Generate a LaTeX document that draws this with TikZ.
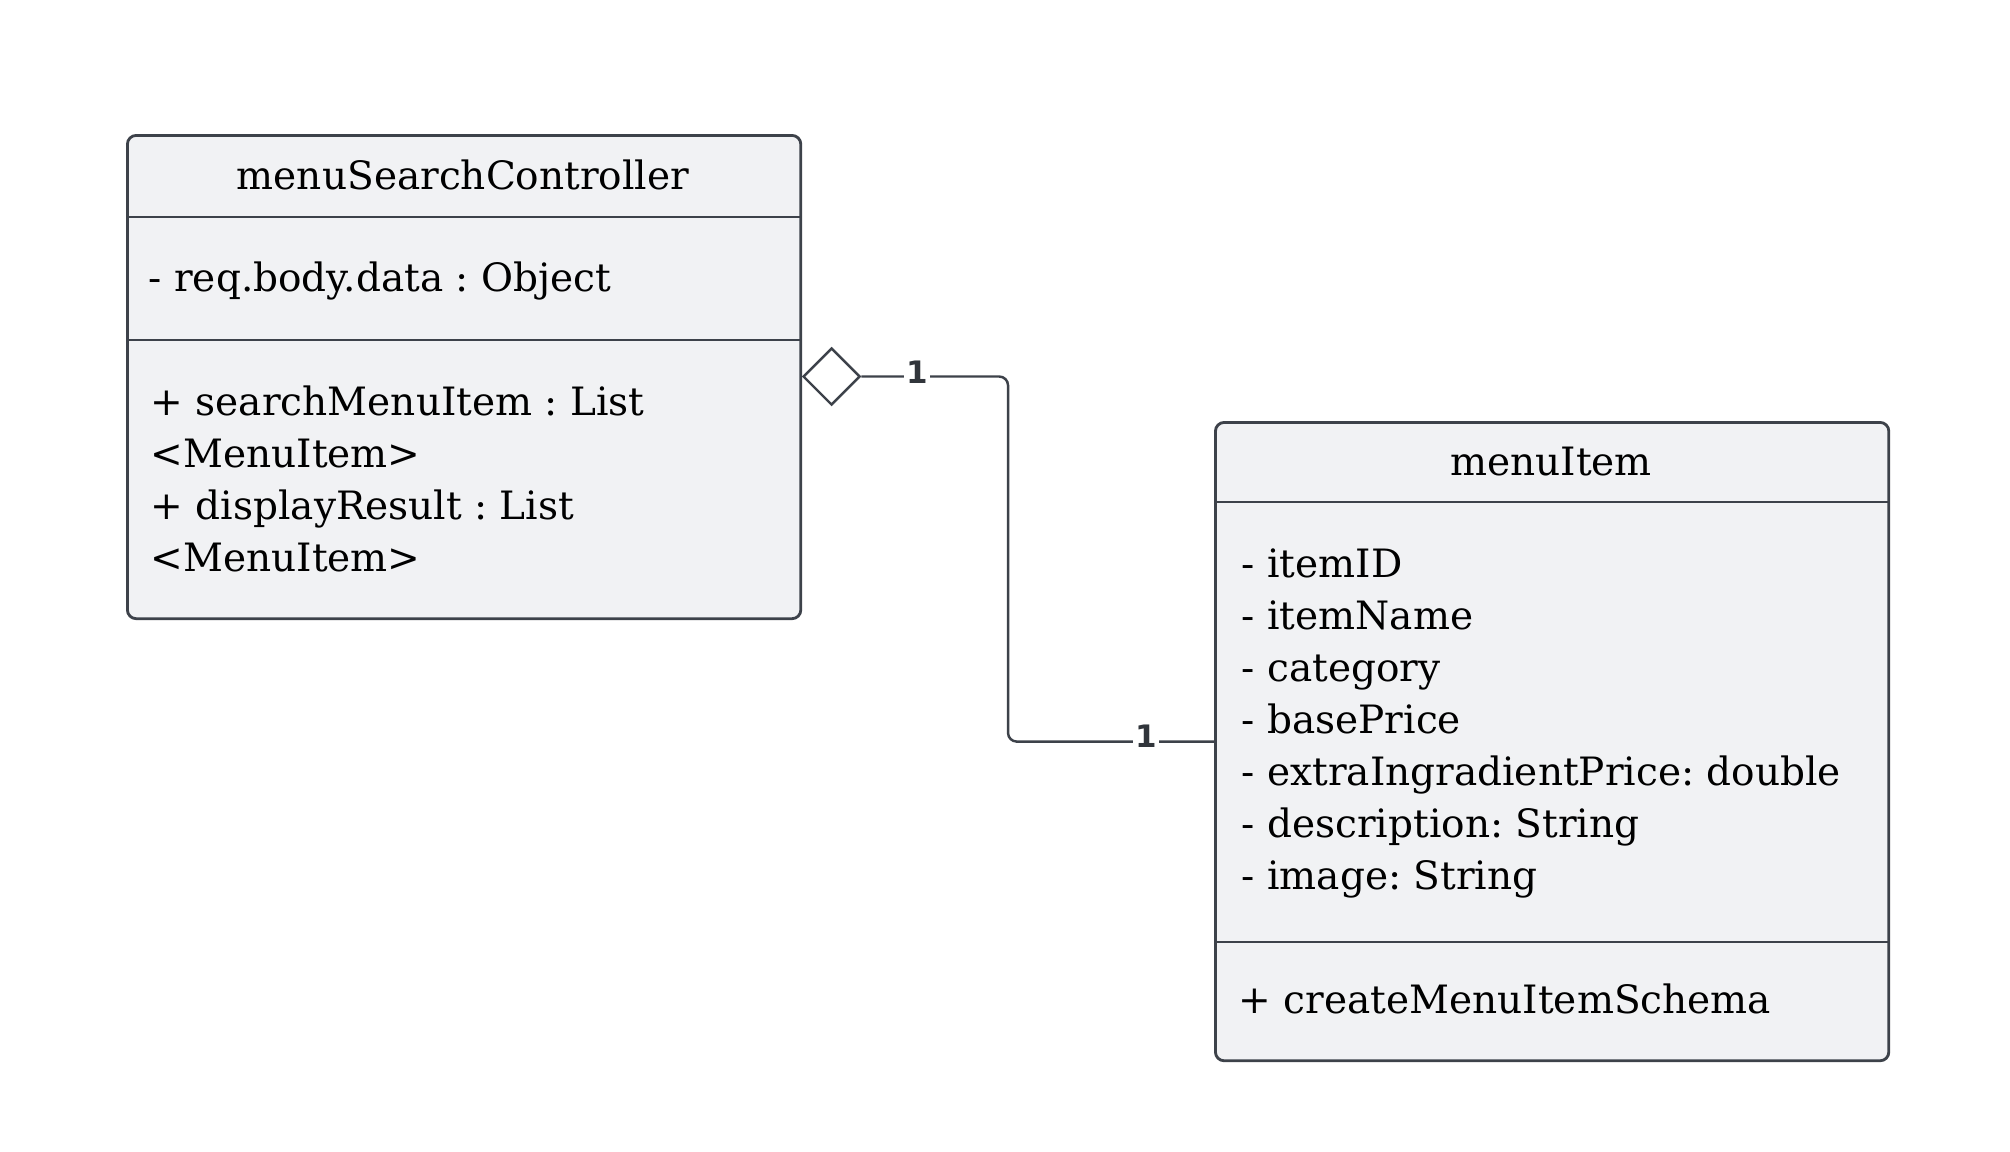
\documentclass[tikz,border=0pt]{standalone}
\usepackage{fontspec}
\setmainfont{DejaVu Serif}
\newfontfamily\multfont{DejaVu Sans}
\usetikzlibrary{shapes.geometric}
\definecolor{classfill}{HTML}{F1F2F4}
\definecolor{classline}{HTML}{3D424A}
\frenchspacing
\begin{document}
\begin{tikzpicture}[x=0.01cm,y=-0.01cm,
  classbox/.style={draw=classline,fill=classfill,line width=0.8pt,rounded corners=2.5pt,anchor=north west,minimum width=6.73cm,inner sep=0pt},
  classname/.style={anchor=base,font=\fontsize{11.1}{14.8}\selectfont,inner sep=0pt},
  member/.style={anchor=base west,font=\fontsize{11.1}{14.8}\selectfont,inner sep=0pt},
  sep/.style={draw=classline,line width=0.6pt},
  aggr/.style={diamond,draw=classline,fill=white,line width=0.7pt,minimum width=0.57cm,minimum height=0.57cm,inner sep=0pt},
  assoc/.style={draw=classline,line width=0.7pt,rounded corners=2.5pt},
  mult/.style={font=\multfont\bfseries\fontsize{8.8}{10}\selectfont,text=classline!80!black,fill=white,inner sep=0.6pt}]
  \useasboundingbox (0,0) rectangle (2010,1151);

  % menuSearchController
  \node[classbox,minimum height=4.83cm] (ctrl) at (126,134) {};
  \draw[sep] (126,217) -- (800,217);
  \draw[sep] (126,340) -- (800,340);
  \node[classname] (ctrlname) at (463,189) {menuSearchController};
  \node[member] (ctrlattr) at (148,291) {- req.body.data : Object};
  \foreach \txt [count=\i] in {+ searchMenuItem : List,<MenuItem>,+ displayResult : List,<MenuItem>}
    \node[member] (ctrlop\i) at (150,363+52*\i) {\txt};

  % menuItem
  \node[classbox,minimum height=6.38cm] (item) at (1214,421) {};
  \draw[sep] (1214,502) -- (1888,502);
  \draw[sep] (1214,942) -- (1888,942);
  \node[classname] (itemname) at (1551,475) {menuItem};
  \foreach \txt [count=\i] in {- itemID,- itemName,- category,- basePrice,- extraIngradientPrice: double,- description: String,- image: String}
    \node[member] (itemattr\i) at (1241,525+52*\i) {\txt};
  \node[member] (itemop) at (1238,1013) {+ createMenuItemSchema};

  % aggregation
  \node[aggr] (agg) at (831.5,376.5) {};
  \draw[assoc] (agg.east) -- (1008,376.5) |- (item.west);
  \node[mult] (multctrl) at (917,372) {1};
  \node[mult] (multitem) at (1146,736) {1};
\end{tikzpicture}
\end{document}
